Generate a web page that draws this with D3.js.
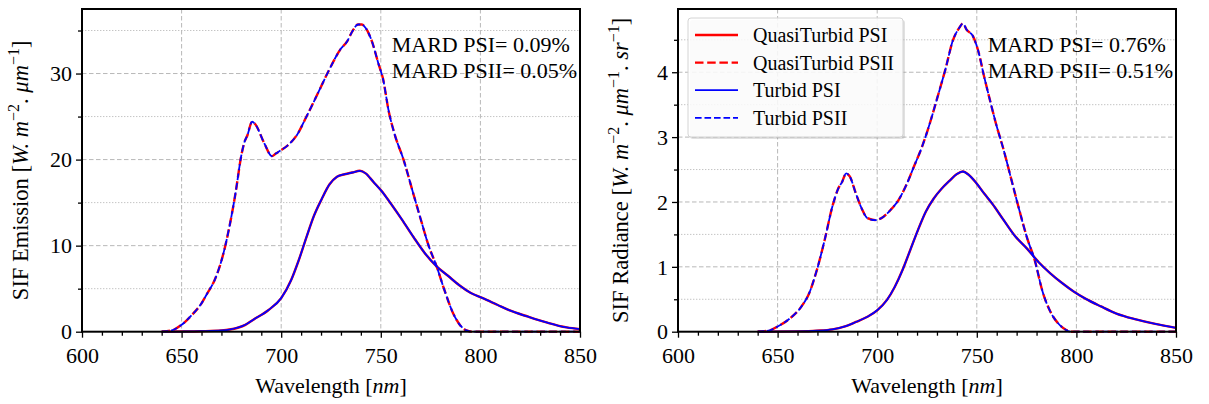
<!DOCTYPE html>
<html><head><meta charset="utf-8">
<script src="https://cdn.jsdelivr.net/npm/d3@7"></script>
<style>body{margin:0;background:#fff}svg{display:block}text{font-family:"Liberation Serif","Times New Roman",serif;fill:#000}</style>
</head><body><svg id="c" width="1209" height="404"></svg>
<script>
// ---- data (wavelength nm, value) ----
const xTicks = [600, 650, 700, 750, 800, 850];
const emissionTicks = [0, 10, 20, 30];
const radianceTicks = [0, 1, 2, 3, 4];
const seriesNames = ["QuasiTurbid PSI", "QuasiTurbid PSII", "Turbid PSI", "Turbid PSII"];
const mardEmission = ["MARD PSI= 0.09%", "MARD PSII= 0.05%"];
const mardRadiance = ["MARD PSI= 0.76%", "MARD PSII= 0.51%"];

const quasiEmissionPSI = [[640,0],[650,0.02],[660,0.06],[670,0.15],[674,0.25],[682,0.8],[686,1.4],[693.5,2.5],[700,3.9],[705,6],[708.8,8.3],[712.7,11],[716.5,13.5],[720.3,15.4],[724.2,17.1],[728,18.0],[731.9,18.3],[735.7,18.5],[739.5,18.7],[742.4,18.4],[746.3,17.4],[750.2,16.4],[755,14.9],[760.7,13],[766.4,11],[772.2,9.1],[778,7.6],[783.7,6.5],[789.4,5.4],[795.2,4.5],[801.2,3.9],[808.7,3.1],[814.4,2.5],[824,1.74],[833.6,1.05],[843.3,0.5],[850,0.3]];
const quasiEmissionPSII = [[640,0],[645,0.15],[650,0.8],[655,1.9],[660,3.3],[663,4.5],[666.6,6],[671,9.1],[674,12.2],[677,16],[680,20.5],[681.5,22],[683,22.8],[685.4,24.4],[687,24.1],[691.5,21.9],[695.4,20.4],[697.3,20.7],[700,21.1],[703,21.6],[708,22.9],[712.7,25],[718.4,27.7],[724,30.4],[730,32.9],[733,33.7],[735.7,34.9],[738.6,35.7],[740.5,35.7],[742.4,35.3],[745.3,33.9],[749,31],[751,29.5],[754,25.6],[757,22.9],[761.4,20],[766,16.3],[770,13.1],[774,10],[778,7.6],[782,4.8],[786,2.3],[790,0.7],[793,0.15],[796,0],[810,0],[830,0],[850,0]];
const turbidEmissionPSI = [[640,0],[650,0.02],[660,0.06],[670,0.15],[674,0.25],[682,0.8],[686,1.4],[693.5,2.5],[700,3.9],[705,6],[708.8,8.3],[712.7,11],[716.5,13.5],[720.3,15.4],[724.2,17.1],[728,18.0],[731.9,18.3],[735.7,18.5],[739.5,18.7],[742.4,18.4],[746.3,17.4],[750.2,16.4],[755,14.9],[760.7,13],[766.4,11],[772.2,9.1],[778,7.6],[783.7,6.5],[789.4,5.4],[795.2,4.5],[801.2,3.9],[808.7,3.1],[814.4,2.5],[824,1.74],[833.6,1.05],[843.3,0.5],[850,0.3]];
const turbidEmissionPSII = [[640,0],[645,0.15],[650,0.8],[655,1.9],[660,3.3],[663,4.5],[666.6,6],[671,9.1],[674,12.2],[677,16],[680,20.5],[681.5,22],[683,22.8],[685.4,24.4],[687,24.1],[691.5,21.9],[695.4,20.4],[697.3,20.7],[700,21.1],[703,21.6],[708,22.9],[712.7,25],[718.4,27.7],[724,30.4],[730,32.9],[733,33.7],[735.7,34.9],[738.6,35.7],[740.5,35.7],[742.4,35.3],[745.3,33.9],[749,31],[751,29.5],[754,25.6],[757,22.9],[761.4,20],[766,16.3],[770,13.1],[774,10],[778,7.6],[782,4.8],[786,2.3],[790,0.7],[793,0.15],[796,0],[810,0],[830,0],[850,0]];

const quasiRadiancePSI = [[640,0],[660,0.005],[669.7,0.015],[677.5,0.036],[683.4,0.077],[689.3,0.15],[695.1,0.23],[700,0.33],[704.9,0.49],[708.8,0.69],[712.7,0.95],[716.6,1.26],[720.5,1.57],[724.4,1.85],[728.3,2.05],[732.2,2.2],[736.1,2.32],[740,2.43],[743,2.47],[745.9,2.42],[749.8,2.29],[753.7,2.13],[757.6,1.98],[763.5,1.72],[769.3,1.47],[775.2,1.28],[781.1,1.07],[786.9,0.9],[792.8,0.75],[798.6,0.62],[804.5,0.51],[812.3,0.39],[820.1,0.28],[829.9,0.19],[839.6,0.12],[850,0.06]];
const quasiRadiancePSII = [[640,0],[646,0.02],[650,0.08],[656,0.2],[662,0.39],[665.8,0.59],[669.7,0.95],[673.6,1.41],[677.5,1.93],[680.5,2.21],[682.4,2.31],[684.4,2.44],[686.3,2.39],[689.3,2.13],[692.2,1.9],[695.1,1.75],[699,1.72],[703,1.77],[706.8,1.88],[710.7,2.03],[714.6,2.26],[718.5,2.55],[722.5,2.85],[726.4,3.21],[730.3,3.62],[734.2,4.04],[738.1,4.5],[741.1,4.68],[743,4.75],[745,4.65],[748,4.56],[750.8,4.32],[753.7,3.93],[756.6,3.57],[759.6,3.21],[763.5,2.8],[767.4,2.34],[771.3,1.88],[775.2,1.45],[779.1,1.1],[783,0.62],[786.9,0.31],[790.8,0.13],[794.7,0.03],[797,0],[850,0]];
const turbidRadiancePSI = [[640,0],[660,0.005],[669.7,0.015],[677.5,0.036],[683.4,0.077],[689.3,0.15],[695.1,0.23],[700,0.33],[704.9,0.49],[708.8,0.69],[712.7,0.95],[716.6,1.26],[720.5,1.57],[724.4,1.85],[728.3,2.05],[732.2,2.2],[736.1,2.32],[740,2.43],[743,2.47],[745.9,2.42],[749.8,2.29],[753.7,2.13],[757.6,1.98],[763.5,1.72],[769.3,1.47],[775.2,1.28],[781.1,1.07],[786.9,0.9],[792.8,0.75],[798.6,0.62],[804.5,0.51],[812.3,0.39],[820.1,0.28],[829.9,0.19],[839.6,0.12],[850,0.06]];
const turbidRadiancePSII = [[640,0],[646,0.02],[650,0.08],[656,0.2],[662,0.39],[665.8,0.59],[669.7,0.95],[673.6,1.41],[677.5,1.93],[680.5,2.21],[682.4,2.31],[684.4,2.44],[686.3,2.39],[689.3,2.13],[692.2,1.9],[695.1,1.75],[699,1.72],[703,1.77],[706.8,1.88],[710.7,2.03],[714.6,2.26],[718.5,2.55],[722.5,2.85],[726.4,3.21],[730.3,3.62],[734.2,4.04],[738.1,4.5],[741.1,4.68],[743,4.75],[745,4.65],[748,4.56],[750.8,4.32],[753.7,3.93],[756.6,3.57],[759.6,3.21],[763.5,2.8],[767.4,2.34],[771.3,1.88],[775.2,1.45],[779.1,1.1],[783,0.62],[786.9,0.31],[790.8,0.13],[794.7,0.03],[797,0],[850,0]];

// ---- drawing ----
const svg = d3.select("#c");
const plotTop = 9, plotBottom = 331.7;
const styles = [
  {color:"#ff0000", w:2.4, dash:null},
  {color:"#ff0000", w:2.4, dash:"8.5,3.7"},
  {color:"#0000ff", w:1.8, dash:null},
  {color:"#0000ff", w:1.8, dash:"6.6,2.9"}
];

function panel(o){
  const x = d3.scaleLinear().domain([600,850]).range([o.x0,o.x1]);
  const y = d3.scaleLinear().domain([0,o.ymax]).range([plotBottom,plotTop]);
  const g = svg.append("g");
  const minorY = o.minor;
  g.append("g").selectAll("line").data(minorY).join("line")
    .attr("x1",o.x0).attr("x2",o.x1).attr("y1",d=>y(d)).attr("y2",d=>y(d))
    .attr("stroke","#c4c4c4").attr("stroke-width",1).attr("stroke-dasharray","1.4,1.6");
  g.append("g").selectAll("line").data(o.ticks.filter(d=>d>0)).join("line")
    .attr("x1",o.x0).attr("x2",o.x1).attr("y1",d=>y(d)).attr("y2",d=>y(d))
    .attr("stroke","#b8b8b8").attr("stroke-width",1).attr("stroke-dasharray","4.5,2.5");
  g.append("g").selectAll("line").data(xTicks.slice(1,-1)).join("line")
    .attr("y1",plotTop).attr("y2",plotBottom).attr("x1",d=>x(d)).attr("x2",d=>x(d))
    .attr("stroke","#b8b8b8").attr("stroke-width",1).attr("stroke-dasharray","4.5,2.5");
  const line = d3.line().x(d=>x(d[0])).y(d=>y(d[1])).curve(d3.curveMonotoneX);
  o.series.forEach((s,i)=>{
    const st = styles[i];
    g.append("path").datum(s).attr("d",line).attr("fill","none")
      .attr("stroke",st.color).attr("stroke-width",st.w)
      .attr("stroke-dasharray",st.dash).attr("stroke-linejoin","round");
  });
  const xa = g.append("g").attr("transform",`translate(0,${plotBottom})`)
    .call(d3.axisBottom(x).tickValues(xTicks).tickSize(6).tickFormat(d3.format("d")));
  g.append("g").attr("transform",`translate(0,${plotBottom})`)
    .call(d3.axisBottom(x).tickValues(d3.range(610,850,10).filter(v=>v%50)).tickSize(4).tickFormat(""));
  const ya = g.append("g").attr("transform",`translate(${o.x0},0)`)
    .call(d3.axisLeft(y).tickValues(o.ticks).tickSize(6).tickFormat(d3.format("d")));
  g.append("g").attr("transform",`translate(${o.x0},0)`)
    .call(d3.axisLeft(y).tickValues(minorY).tickSize(4).tickFormat(""));
  g.selectAll(".tick line").attr("stroke","#000").attr("stroke-width",1.3);
  g.selectAll(".domain").remove();
  xa.selectAll("text").attr("font-size",22).attr("font-family","Liberation Serif").attr("dy",null).attr("y",31);
  ya.selectAll("text").attr("font-size",22).attr("font-family","Liberation Serif").attr("x",-10).attr("dy","0.33em");
  g.append("rect").attr("x",o.x0).attr("y",plotTop).attr("width",o.x1-o.x0).attr("height",plotBottom-plotTop)
    .attr("fill","none").attr("stroke","#000").attr("stroke-width",2);
  const xl = g.append("text").attr("x",(o.x0+o.x1)/2).attr("y",393).attr("text-anchor","middle").attr("font-size",22);
  xl.append("tspan").text("Wavelength [");
  xl.append("tspan").attr("font-style","italic").text("nm");
  xl.append("tspan").text("]");
  const yl = g.append("text").attr("transform",`translate(${o.ylx},${(plotTop+plotBottom)/2}) rotate(-90)`)
    .attr("text-anchor","middle").attr("font-size",22.5);
  o.ylabel.forEach(p=>{
    const t = yl.append("tspan").text(p.t);
    if(p.i) t.attr("font-style","italic");
    if(p.sup) t.attr("font-size",16).attr("dy",-9);
    if(p.down) t.attr("dy",9);
  });
  o.mard.forEach((t,i)=>{
    g.append("text").attr("x",o.x0+0.622*(o.x1-o.x0)).attr("y",52+i*25.5).attr("font-size",22).text(t);
  });
  return {x,y,g};
}

panel({x0:82,x1:580,ymax:37.5,ticks:emissionTicks,minor:[5,15,25,35],ylx:28,
  series:[quasiEmissionPSI,quasiEmissionPSII,turbidEmissionPSI,turbidEmissionPSII],
  mard:mardEmission,
  ylabel:[{t:"SIF Emission ["},{t:"W",i:1},{t:". ",i:1},{t:"m",i:1},{t:"−2",sup:1},{t:". ",down:1},{t:"μm",i:1},{t:"−1",sup:1},{t:"]",down:1}]});
panel({x0:678,x1:1176,ymax:4.975,ticks:radianceTicks,minor:[0.5,1.5,2.5,3.5,4.5],ylx:628,
  series:[quasiRadiancePSI,quasiRadiancePSII,turbidRadiancePSI,turbidRadiancePSII],
  mard:mardRadiance,
  ylabel:[{t:"SIF Radiance ["},{t:"W",i:1},{t:". ",i:1},{t:"m",i:1},{t:"−2",sup:1},{t:". ",down:1},{t:"μm",i:1},{t:"−1",sup:1},{t:". ",down:1},{t:"sr",i:1},{t:"−1",sup:1},{t:"]",down:1}]});

// legend
const lg = svg.append("g");
lg.append("rect").attr("x",690).attr("y",20).attr("width",215).attr("height",119).attr("rx",3)
  .attr("fill","#888").attr("opacity",0.25);
lg.append("rect").attr("x",688).attr("y",18).attr("width",215).attr("height",119).attr("rx",3)
  .attr("fill","#fff").attr("fill-opacity",0.85).attr("stroke","#d4d4d4").attr("stroke-width",1);
seriesNames.forEach((n,i)=>{
  const yy = 35 + i*27.6, st = styles[i];
  lg.append("line").attr("x1",695).attr("x2",738).attr("y1",yy).attr("y2",yy)
    .attr("stroke",st.color).attr("stroke-width",st.w).attr("stroke-dasharray",st.dash);
  lg.append("text").attr("x",753).attr("y",yy).attr("dy","0.35em").attr("font-size",20).text(n);
});
</script></body></html>
